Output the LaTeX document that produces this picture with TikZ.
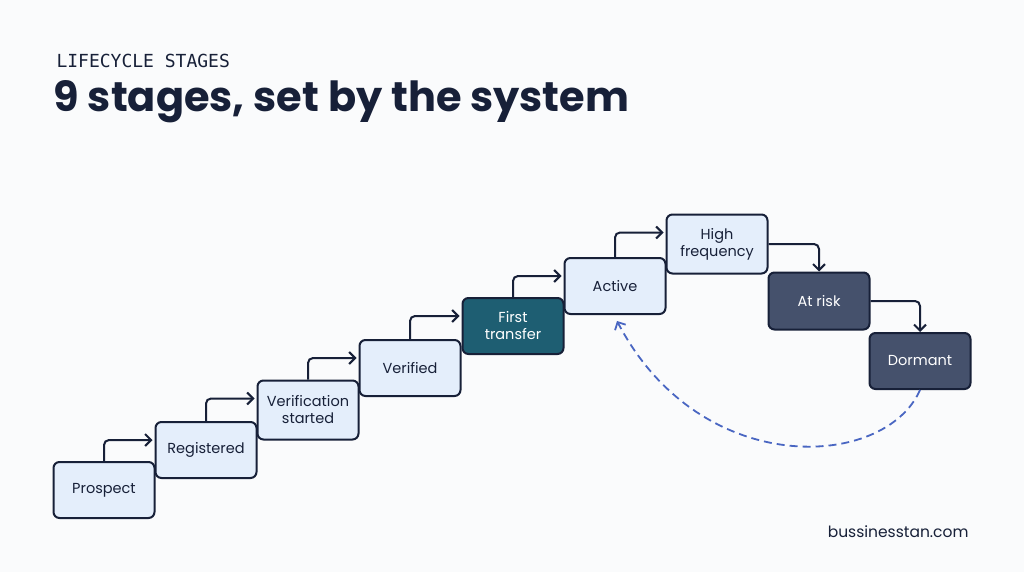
\documentclass[tikz,border=0pt]{standalone}
\usepackage{fontspec}
\setmainfont{Poppins}
\newfontfamily\monof{DejaVu Sans Mono}
\usetikzlibrary{arrows.meta,calc}
\definecolor{ink}{HTML}{172038}
\definecolor{lightf}{HTML}{E4EEFB}
\definecolor{tealc}{HTML}{1E5E72}
\definecolor{slate}{HTML}{45516C}
\definecolor{dashc}{HTML}{4966C2}
\definecolor{bg}{HTML}{FAFBFC}
\begin{document}
\begin{tikzpicture}[x=1pt,y=-1pt,
 box/.style={draw=ink,line width=2pt,rounded corners=6pt,minimum width=101pt,minimum height=56pt,align=center,font=\fontsize{14.5}{17}\selectfont,text=ink,fill=lightf},
 dark/.style={box,fill=slate,text=white},
 tealb/.style={box,fill=tealc,text=white},
 conn/.style={draw=ink,line width=2pt,-{Straight Barb[length=6pt,width=12pt]},rounded corners=5pt}]
\fill[bg] (0,0) rectangle (1024,572);
\useasboundingbox (0,0) rectangle (1024,572);
\node[anchor=west,font=\monof\fontsize{18}{20}\selectfont,text=ink] (sub) at (53,61) {LIFECYCLE STAGES};
\node[anchor=west,font=\bfseries\fontsize{41.5}{46}\selectfont,text=ink] (title) at (50,102) {9 stages, set by the system};
\node[box] (p) at (104,490) {Prospect};
\node[box] (r) at (206,450) {Registered};
\node[box,minimum height=59pt] (vs) at (308,410) {Verification\\started};
\node[box] (v) at (410,368) {Verified};
\node[tealb] (f) at (513,326) {First\\transfer};
\node[box] (a) at (615,286) {Active};
\node[box,minimum height=59pt] (h) at (717,244) {High\\frequency};
\node[dark,minimum height=57pt] (k) at (819,301) {At risk};
\node[dark] (d) at (920,361) {Dormant};
\foreach \s/\t in {p/r,r/vs,vs/v,v/f,f/a,a/h}
  \draw[conn] (\s.north) |- ($(\t.north west)+(-2,19)$);
\draw[conn] (h.east) -| (k.north);
\draw[conn] (k.east) -| (d.north);
\draw[dashc,line width=1.8pt,dash pattern=on 8pt off 5pt,-{Straight Barb[length=6pt,width=12pt]}] (d.south) .. controls (885,470) and (700,480) .. ($(a.south)+(2,6)$);
\node[anchor=east,font=\fontsize{15.5}{18}\selectfont,text=ink] (url) at (972,532) {bussinesstan.com};
\end{tikzpicture}
\end{document}
